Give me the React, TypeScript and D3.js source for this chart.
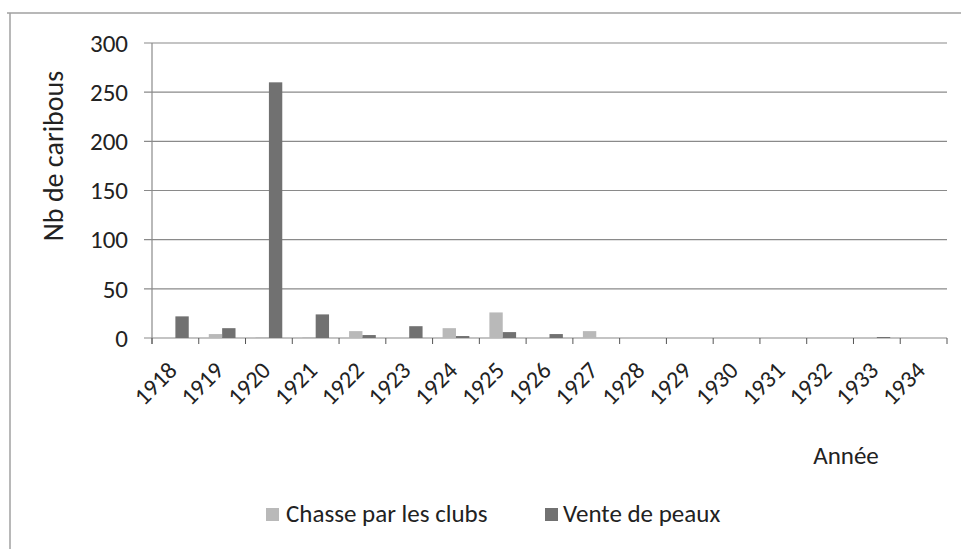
import React from "react";
import * as d3 from "d3";

const years = ["1918","1919","1920","1921","1922","1923","1924","1925","1926","1927","1928","1929","1930","1931","1932","1933","1934"];
const chasse = [0, 4, 1, 1, 7, 0, 10, 26, 0, 7, 0, 0, 0, 0, 0, 0, 0];
const vente = [22, 10, 260, 24, 3, 12, 2, 6, 4, 0, 0, 0, 0, 0, 0, 1, 0];
const yTicks = [0, 50, 100, 150, 200, 250, 300];
const seriesNames = ["Chasse par les clubs", "Vente de peaux"];
const seriesColors = ["#b9b9b9", "#717171"];

const W = 961, H = 549;
const left = 152, right = 947, top = 43, bottom = 338;
const font = "Carlito, 'Open Sans', 'Liberation Sans', sans-serif";

export default function App() {
  const x = d3.scaleBand().domain(years).range([left, right]).paddingInner(0).paddingOuter(0);
  const y = d3.scaleLinear().domain([0, 300]).range([bottom, top]);
  const bw = x.bandwidth() / 3.5;
  const series = [chasse, vente];
  return (
    <svg width={W} height={H} style={{ position: "absolute", left: 0, top: 0, background: "#fff" }} fontFamily={font}>
      <line x1={7} x2={961} y1={13} y2={13} stroke="#a0a0a0" strokeWidth={1.5} />
      <line x1={10} x2={10} y1={13} y2={549} stroke="#a0a0a0" strokeWidth={1.5} />
      {yTicks.map((t) => (
        <g key={t}>
          <line x1={left - 8} x2={right} y1={y(t)} y2={y(t)} stroke="#8a8a8a" strokeWidth={1.2} />
          <text x={128} y={y(t)} dy="0.35em" textAnchor="end" fontSize={25} fill="#222">{t}</text>
        </g>
      ))}
      <line x1={left} x2={left} y1={top} y2={bottom + 6} stroke="#8a8a8a" strokeWidth={1.2} />
      {years.map((yr) => (
        <line key={"tk" + yr} x1={x(yr)!} x2={x(yr)!} y1={bottom} y2={bottom + 6} stroke="#555" strokeWidth={1} />
      ))}
      <line x1={right} x2={right} y1={bottom} y2={bottom + 6} stroke="#555" strokeWidth={1} />
      {series.map((vals, s) =>
        years.map((yr, i) => {
          const v = vals[i];
          if (v <= 0) return null;
          const bx = x(yr)! + x.bandwidth() / 2 - bw + s * bw;
          return <rect key={s + yr} x={bx} y={y(v)} width={bw} height={y(0) - y(v)} fill={seriesColors[s]} />;
        })
      )}
      {years.map((yr) => {
        const cx = x(yr)! + x.bandwidth() / 2 + 3;
        const cy = bottom + 34;
        return (
          <text key={"l" + yr} x={cx} y={cy} textAnchor="end" fontSize={24} fill="#222" transform={`rotate(-45 ${cx} ${cy})`}>{yr}</text>
        );
      })}
      <text transform={`translate(63 ${156}) rotate(-90)`} textAnchor="middle" fontSize={28} fill="#222">Nb de caribous</text>
      <text x={846} y={464} textAnchor="middle" fontSize={25} fill="#222">Année</text>
      <rect x={266} y={508} width={13} height={13} fill={seriesColors[0]} />
      <text x={286} y={522} fontSize={25} fill="#222">{seriesNames[0]}</text>
      <rect x={545} y={508} width={13} height={13} fill={seriesColors[1]} />
      <text x={563} y={522} fontSize={25} fill="#222">{seriesNames[1]}</text>
    </svg>
  );
}
